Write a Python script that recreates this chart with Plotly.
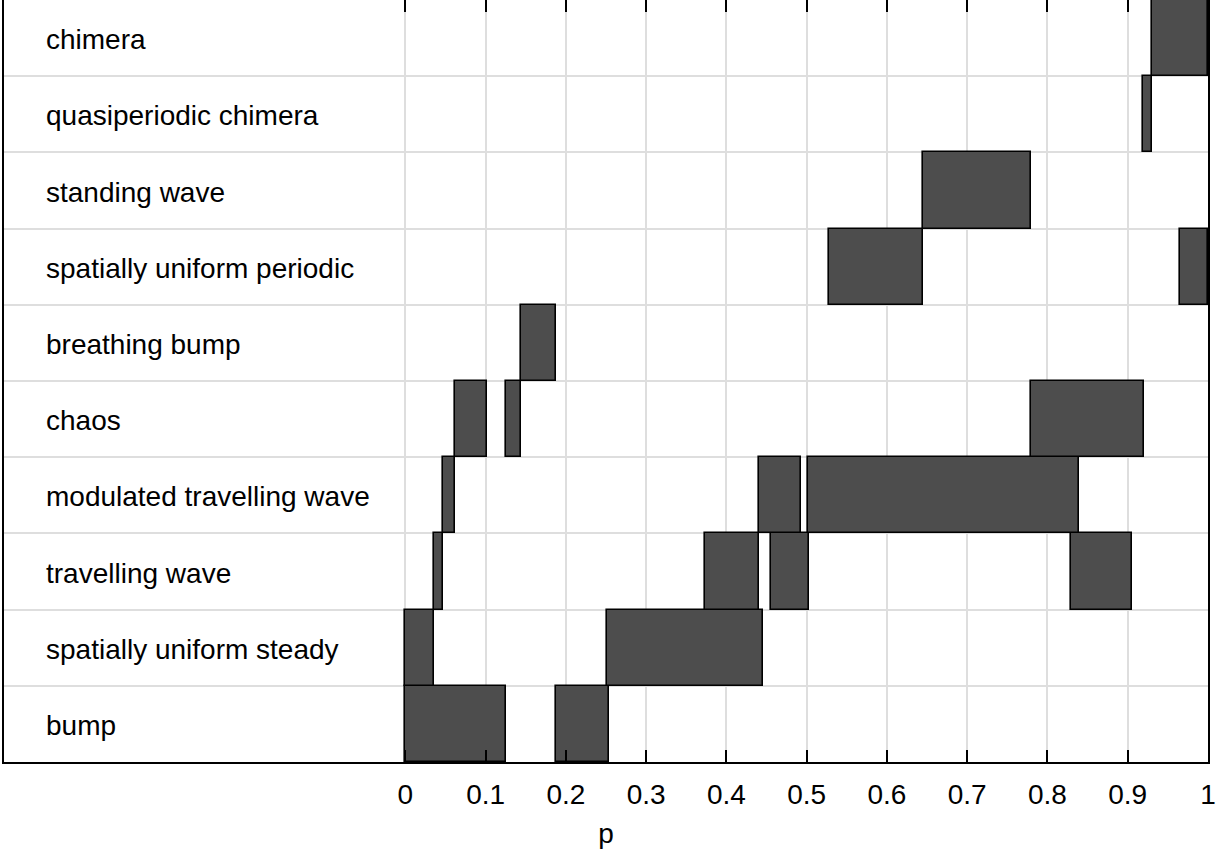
import plotly.graph_objects as go

categories = ["bump", "spatially uniform steady", "travelling wave",
              "modulated travelling wave", "chaos", "breathing bump",
              "spatially uniform periodic", "standing wave",
              "quasiperiodic chimera", "chimera"]

# intervals of p for each state: (start, end)
bump = [(0.0, 0.1255), (0.1875, 0.2535)]
spatially_uniform_steady = [(0.0, 0.0357), (0.2516, 0.4455)]
travelling_wave = [(0.0357, 0.047), (0.3736, 0.4404), (0.4554, 0.5027), (0.8298, 0.905)]
modulated_travelling_wave = [(0.047, 0.0614), (0.4404, 0.4935), (0.502, 0.8396)]
chaos = [(0.0614, 0.1017), (0.1254, 0.1437), (0.78, 0.92)]
breathing_bump = [(0.1437, 0.188)]
spatially_uniform_periodic = [(0.5284, 0.6455), (0.9647, 1.0)]
standing_wave = [(0.6455, 0.78)]
quasiperiodic_chimera = [(0.9195, 0.93)]
chimera = [(0.93, 1.0)]

intervals = [bump, spatially_uniform_steady, travelling_wave,
             modulated_travelling_wave, chaos, breathing_bump,
             spatially_uniform_periodic, standing_wave,
             quasiperiodic_chimera, chimera]

tick_vals = [0, 0.1, 0.2, 0.3, 0.4, 0.5, 0.6, 0.7, 0.8, 0.9, 1]
tick_text = ["0", "0.1", "0.2", "0.3", "0.4", "0.5", "0.6", "0.7", "0.8", "0.9", "1"]

FONT = "Liberation Sans, Arial, sans-serif"
FS = 28

ys, bases, lens = [], [], []
for i, segs in enumerate(intervals):
    for s, e in segs:
        ys.append(i)
        bases.append(s)
        lens.append(e - s)

fig = go.Figure()
fig.add_trace(go.Bar(
    y=ys, x=lens, base=bases, orientation="h", width=1,
    marker=dict(color="#4d4d4d", line=dict(color="#000000", width=1.6)),
    showlegend=False, hoverinfo="skip"))

# invisible trace for top axis
fig.add_trace(go.Scatter(x=[0, 1], y=[0, 0], xaxis="x2", mode="markers",
                         marker=dict(opacity=0), showlegend=False, hoverinfo="skip"))

for i, c in enumerate(categories):
    fig.add_annotation(x=-0.45, y=i - 0.02, text=c, xref="x", yref="y",
                       xanchor="left", yanchor="middle", showarrow=False,
                       font=dict(family=FONT, size=FS, color="#000000"))

XR = [-0.5, 1.0]
fig.update_layout(
    width=1223, height=853,
    margin=dict(l=4, r=15, t=0, b=91),
    plot_bgcolor="#ffffff", paper_bgcolor="#ffffff",
    bargap=0,
    font=dict(family=FONT, size=FS, color="#000000"),
    xaxis=dict(range=XR, tickvals=tick_vals, ticktext=tick_text,
               showgrid=True, gridcolor="#dedede", gridwidth=1.5,
               zeroline=False, showline=True, linecolor="#000000", linewidth=1.5,
               ticks="inside", ticklen=12, tickwidth=1.5, tickcolor="#000000",
               ticklabelstandoff=7,
               tickfont=dict(family=FONT, size=FS, color="#000000"),
               title=dict(text="p", font=dict(family=FONT, size=FS, color="#000000"), standoff=14)),
    xaxis2=dict(range=XR, overlaying="x", side="top", tickvals=tick_vals,
                showticklabels=False, showgrid=False, zeroline=False, showline=False,
                ticks="inside", ticklen=12, tickwidth=1.5, tickcolor="#000000"),
    yaxis=dict(range=[-0.5, 9.5], tickvals=[i + 0.5 for i in range(-1, 10)],
               showticklabels=False, showgrid=True, gridcolor="#dedede", gridwidth=1.5,
               zeroline=False, showline=True, mirror=True, linecolor="#000000",
               linewidth=1.5, ticks=""),
)

fig.write_html("out.html")
